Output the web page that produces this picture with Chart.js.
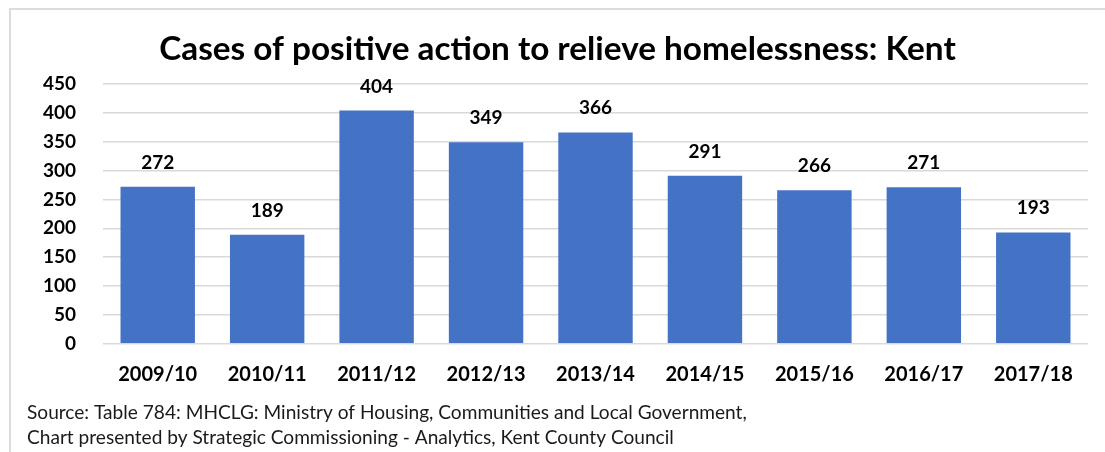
<!DOCTYPE html>
<html>
<head>
<meta charset="utf-8">
<script src="https://cdn.jsdelivr.net/npm/chart.js@4.4.1/dist/chart.umd.min.js"></script>
<style>
    html, body { margin: 0; padding: 0; background: #fff; }
    .wrap { position: relative; width: 1105px; height: 452px; overflow: hidden; }
    .frame {
        position: absolute; left: 9px; top: 8px; width: 1200px; height: 600px;
        border: 2px solid #dcdcdc; pointer-events: none;
    }
    canvas { position: absolute; left: 0; top: 0; }
</style>
</head>
<body>
<div class="wrap">
    <canvas id="homelessChart" width="1105" height="452"></canvas>
    <div class="frame"></div>
</div>
<script>
// ==========================================
// Positive action cases - Kent, by financial year
// ==========================================

const years = ['2009/10', '2010/11', '2011/12', '2012/13', '2013/14', '2014/15', '2015/16', '2016/17', '2017/18'];
const cases = [272, 189, 404, 349, 366, 291, 266, 271, 193];
const yTicks = [0, 50, 100, 150, 200, 250, 300, 350, 400, 450];

const chartTitle = 'Cases of positive action to relieve homelessness: Kent';
const sourceLines = [
    'Source: Table 784: MHCLG: Ministry of Housing, Communities and Local Government,',
    'Chart presented by Strategic Commissioning - Analytics, Kent County Council'
];

const FONT = "Lato, 'Liberation Sans', sans-serif";
const BAR_BLUE = '#4472C4';
const GRID_GREY = '#d9d9d9';

// Value labels sitting above each bar
const barValueLabels = {
    id: 'barValueLabels',
    afterDatasetsDraw(chart) {
        const ctx = chart.ctx;
        const meta = chart.getDatasetMeta(0);
        const values = chart.data.datasets[0].data;
        ctx.save();
        ctx.font = `bold 19px ${FONT}`;
        ctx.fillStyle = '#000';
        ctx.textAlign = 'center';
        ctx.textBaseline = 'alphabetic';
        meta.data.forEach((bar, i) => {
            ctx.fillText(String(values[i]), bar.x, bar.y - 18);
        });
        ctx.restore();
    }
};

const ctx = document.getElementById('homelessChart').getContext('2d');

new Chart(ctx, {
    type: 'bar',
    data: {
        labels: years,
        datasets: [{
            data: cases,
            backgroundColor: BAR_BLUE,
            borderWidth: 0,
            categoryPercentage: 1,
            barPercentage: 0.68
        }]
    },
    options: {
        responsive: false,
        animation: false,
        layout: {
            padding: { left: 27, right: 17, top: 10, bottom: 0 }
        },
        plugins: {
            legend: { display: false },
            tooltip: { enabled: false },
            title: {
                display: true,
                text: chartTitle,
                color: '#000',
                font: { family: FONT, size: 33.3, weight: 'bold', lineHeight: 1.2 },
                padding: { top: 19, bottom: 15 }
            },
            subtitle: {
                display: true,
                position: 'bottom',
                align: 'start',
                text: sourceLines,
                color: '#1a1a1a',
                font: { family: FONT, size: 19.1, weight: 'normal', lineHeight: 1.3 },
                padding: { top: 6.5, bottom: 2 }
            }
        },
        scales: {
            x: {
                afterFit(scale) {
                    scale.height = 50;
                },
                grid: { display: false },
                border: { display: false },
                ticks: {
                    color: '#000',
                    padding: 11,
                    maxRotation: 0,
                    font: { family: FONT, size: 20, weight: 'bold', lineHeight: 1.2 }
                }
            },
            y: {
                min: yTicks[0],
                max: yTicks[yTicks.length - 1],
                afterFit(scale) {
                    scale.width = 76;
                },
                afterBuildTicks(scale) {
                    scale.ticks = yTicks.map(v => ({ value: v }));
                },
                grid: { color: GRID_GREY, lineWidth: 1.5, drawTicks: false },
                border: { display: false },
                ticks: {
                    color: '#000',
                    padding: 27,
                    font: { family: FONT, size: 19, weight: 'bold' }
                }
            }
        }
    },
    plugins: [barValueLabels]
});
</script>
</body>
</html>
